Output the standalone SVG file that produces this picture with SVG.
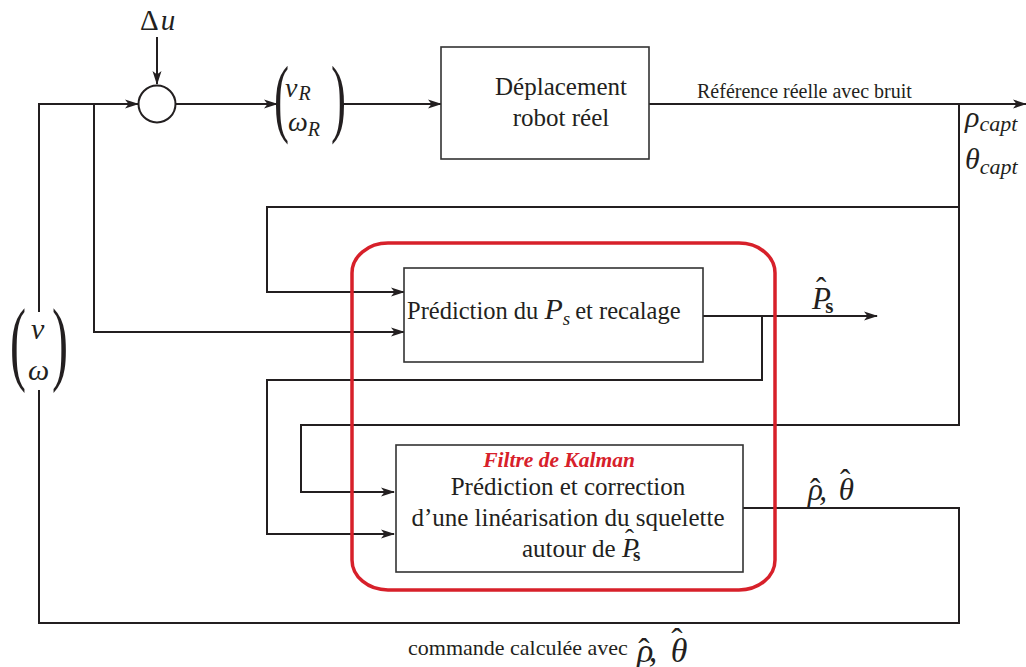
<svg xmlns="http://www.w3.org/2000/svg" width="1026" height="667" viewBox="0 0 1026 667" font-family="Liberation Serif, serif">
<defs>
<marker id="arr" markerWidth="14" markerHeight="10" refX="13" refY="5" orient="auto" markerUnits="userSpaceOnUse">
<path d="M0,0.5 L14,5 L0,9.5 L3.5,5 Z" fill="#231f20"/>
</marker>
<style>
.ln{fill:none;stroke:#231f20;stroke-width:2}
.box{fill:#fff;stroke:#333;stroke-width:1.6}
text{font-family:"Liberation Serif",serif;fill:#231f20}
.m{font-style:italic}
.b{font-weight:bold}
.n{font-style:normal}
</style>
</defs>
<rect width="1026" height="667" fill="#fff"/>

<g id="connectors">
<path class="ln" d="M157,37 V84" marker-end="url(#arr)"/>
<path class="ln" d="M743,508 H959 V623 H39 V390"/>
<path class="ln" d="M39,312 V104 H138" marker-end="url(#arr)"/>
<path class="ln" d="M94,104 V332 H404" marker-end="url(#arr)"/>
<path class="ln" d="M176,104 H277" marker-end="url(#arr)"/>
<path class="ln" d="M343,104 H441" marker-end="url(#arr)"/>
<path class="ln" d="M649,104 H1026" marker-end="url(#arr)"/>
<path class="ln" d="M959,104 V207 H267 V292 H404" marker-end="url(#arr)"/>
<path class="ln" d="M959,207 V425 H301 V492 H394" marker-end="url(#arr)"/>
<path class="ln" d="M703,316 H877" marker-end="url(#arr)"/>
<path class="ln" d="M762,316 V380 H267 V534 H394" marker-end="url(#arr)"/>
</g>

<g id="sum">
<circle cx="157" cy="104" r="18.5" fill="#fff" stroke="#231f20" stroke-width="2"/>
</g>

<g id="delta-u">
<text x="140" y="30" font-size="29">Δ<tspan class="m" dx="2" font-size="29">u</tspan></text>
</g>

<g id="vR-omegaR">
<text font-size="45" transform="translate(274,126) scale(1,1.95)">(</text>
<text font-size="45" transform="translate(331,126) scale(1,1.95)">)</text>
<text class="m" x="285" y="97" font-size="28">v<tspan font-size="20" dx="1" dy="3">R</tspan></text>
<text class="m" x="288" y="131" font-size="28">ω<tspan font-size="20" dy="5">R</tspan></text>
</g>

<g id="deplacement">
<rect class="box" x="441" y="47" width="208" height="112"/>
<text x="561" y="95" font-size="25" text-anchor="middle">Déplacement</text>
<text x="561" y="126" font-size="25" text-anchor="middle">robot réel</text>
</g>

<g id="ref-label">
<text x="697" y="98" font-size="20">Référence réelle avec bruit</text>
</g>

<g id="capt">
<text class="m" x="965" y="127" font-size="30">ρ<tspan font-size="22" dy="4">capt</tspan></text>
<text class="m" x="965" y="169" font-size="30">θ<tspan font-size="22" dy="5">capt</tspan></text>
</g>

<g id="v-omega">
<text font-size="48" transform="translate(10,373) scale(1,1.95)">(</text>
<text font-size="48" transform="translate(52,373) scale(1,1.95)">)</text>
<text class="m" x="31" y="339" font-size="30">v</text>
<text class="m" x="28" y="380" font-size="30">ω</text>
</g>

<g id="kalman-group">
<rect x="352" y="243" width="423" height="347" rx="36" ry="30" fill="none" stroke="#d7202a" stroke-width="3.5"/>
</g>

<g id="prediction">
<rect class="box" x="404" y="268" width="299" height="94"/>
<text x="407" y="319" font-size="24.5">Prédiction du <tspan class="m" font-size="30">P</tspan><tspan class="m" font-size="19" dy="6">s</tspan><tspan dy="-6" dx="5">et recalage</tspan></text>
</g>

<g id="ps-out">
<text class="m" x="812" y="309" font-size="31">P<tspan class="n" dx="-15" dy="-10">ˆ</tspan><tspan class="b n" font-size="21" dx="-1" dy="14">s</tspan></text>
</g>

<g id="kalman">
<rect class="box" x="396" y="445" width="347" height="127"/>
<text class="b m" x="559" y="467" font-size="21.5" text-anchor="middle" style="fill:#d7202a">Filtre de Kalman</text>
<text x="568" y="495" font-size="25" text-anchor="middle">Prédiction et correction</text>
<text x="568" y="526" font-size="25" text-anchor="middle">d’une linéarisation du squelette</text>
<text x="522" y="557" font-size="25">autour de <tspan class="m" font-size="28">P</tspan><tspan class="n" font-size="27" dx="-14" dy="-9">ˆ</tspan><tspan class="b n" font-size="19" dx="-1" dy="13">s</tspan></text>
</g>

<g id="rho-theta-out">
<text class="m" x="808" y="500" font-size="31">ρ<tspan class="n" dx="-13">ˆ</tspan><tspan dx="-1">, </tspan><tspan dx="4">θ</tspan><tspan class="n" dx="-14" dy="-9">ˆ</tspan></text>
</g>

<g id="commande">
<text x="408" y="655" font-size="22">commande calculée avec</text>
<text class="m" x="637" y="662" font-size="34">ρ<tspan class="n" dx="-15">ˆ</tspan><tspan dx="-1">, </tspan><tspan dx="5">θ</tspan><tspan class="n" dx="-16" dy="-10">ˆ</tspan></text>
</g>
</svg>
